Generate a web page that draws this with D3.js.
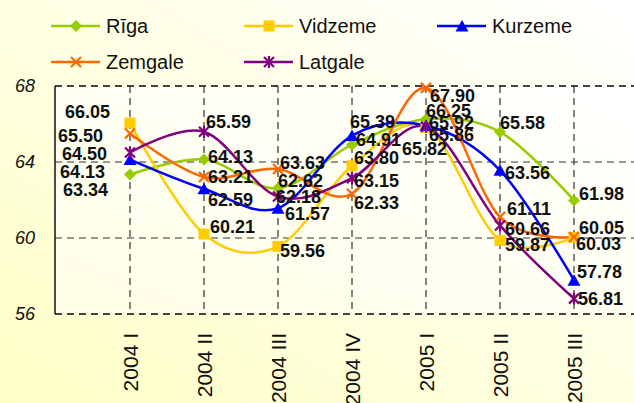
<!DOCTYPE html>
<html>
<head>
<meta charset="utf-8">
<script src="https://cdn.jsdelivr.net/npm/d3@7"></script>
<style>
  body { margin: 0; padding: 0; overflow: hidden; }
  .chart text { font-family: "Liberation Sans", Arial, sans-serif; }
</style>
</head>
<body>
<div class="chart"></div>
<script>
// quarters on the x axis
var quarters = ["2004 I", "2004 II", "2004 III", "2004 IV", "2005 I", "2005 II", "2005 III"];

// series values, one array per region
var riga     = [63.34, 64.13, 62.62, 64.91, 66.25, 65.58, 61.98];
var vidzeme  = [66.05, 60.21, 59.56, 63.80, 65.82, 59.87, 60.03];
var kurzeme  = [64.13, 62.59, 61.57, 65.39, 65.92, 63.56, 57.78];
var zemgale  = [65.50, 63.21, 63.63, 62.33, 67.90, 61.11, 60.05];
var latgale  = [64.50, 65.59, 62.18, 63.15, 65.86, 60.66, 56.81];

var yTicks = [56, 60, 64, 68];

// label nudges [dx, dy] so the numbers do not sit on top of each other
var nudges = {
  "Rīga":    [[-22, 15], [4, -3], [0, -8], [4, -5], [0, -9], [0, -9], [5, -7]],
  "Vidzeme": [[-20, -12], [6, -7], [2, 4], [2, -8], [-24, 21], [5, 4], [2, 6]],
  "Kurzeme": [[-25, 12], [4, 11], [7, 5], [-2, -14], [3, -3], [5, 2], [3, -9]],
  "Zemgale": [[-27, 2], [4, 0], [2, -7], [2, 9], [4, 8], [7, -8], [5, -10]],
  "Latgale": [[-23, 1], [2, -10], [-2, 0], [2, 2], [3, 8], [5, 3], [4, 0]]
};

var series = [
  { name: "Rīga", values: riga, color: "#99cc00", marker: "diamond" },
  { name: "Vidzeme", values: vidzeme, color: "#ffcc00", marker: "square" },
  { name: "Kurzeme", values: kurzeme, color: "#0000ff", marker: "triangle" },
  { name: "Zemgale", values: zemgale, color: "#ff6600", marker: "x" },
  { name: "Latgale", values: latgale, color: "#800080", marker: "star" }
];

var svgWidth = 634;
var svgHeight = 403;

// plot frame
var plot = { left: 55, right: 634, top: 86, bottom: 314 };

var svg = d3.select(".chart")
  .append("svg")
  .attr("width", svgWidth)
  .attr("height", svgHeight);

// background gradients
var defs = svg.append("defs");
var bgGrad = defs.append("linearGradient")
  .attr("id", "bg")
  .attr("x1", "0%").attr("y1", "100%")
  .attr("x2", "100%").attr("y2", "0%");
bgGrad.append("stop").attr("offset", "0%").attr("stop-color", "#ffffc6");
bgGrad.append("stop").attr("offset", "100%").attr("stop-color", "#ffffff");

var plotGrad = defs.append("linearGradient")
  .attr("id", "plotbg")
  .attr("x1", "0%").attr("y1", "100%")
  .attr("x2", "100%").attr("y2", "0%");
plotGrad.append("stop").attr("offset", "0%").attr("stop-color", "#ffffe6");
plotGrad.append("stop").attr("offset", "100%").attr("stop-color", "#ffffff");

svg.append("rect")
  .attr("width", svgWidth)
  .attr("height", svgHeight)
  .attr("fill", "url(#bg)");

svg.append("rect")
  .attr("x", plot.left)
  .attr("y", plot.top)
  .attr("width", plot.right - plot.left)
  .attr("height", plot.bottom - plot.top)
  .attr("fill", "url(#plotbg)");

// scales
var xScale = d3.scalePoint()
  .domain(quarters)
  .range([130, 574]);

var yScale = d3.scaleLinear()
  .domain([56, 68])
  .range([plot.bottom, plot.top]);

// horizontal dashed gridlines (incl. top and bottom)
svg.append("g")
  .selectAll("line")
  .data(yTicks)
  .enter()
  .append("line")
  .attr("x1", plot.left)
  .attr("x2", plot.right)
  .attr("y1", d => yScale(d))
  .attr("y2", d => yScale(d))
  .attr("stroke", d => (d == 56 || d == 68) ? "#444" : "#333")
  .attr("stroke-width", d => (d == 56 || d == 68) ? 2 : 1.2)
  .attr("stroke-dasharray", "7,5");

// vertical dashed gridlines
svg.append("g")
  .selectAll("line")
  .data(quarters)
  .enter()
  .append("line")
  .attr("x1", d => xScale(d))
  .attr("x2", d => xScale(d))
  .attr("y1", plot.top)
  .attr("y2", plot.bottom)
  .attr("stroke", "#333")
  .attr("stroke-width", 1.2)
  .attr("stroke-dasharray", "7,5");

// left axis line
svg.append("line")
  .attr("x1", plot.left).attr("x2", plot.left)
  .attr("y1", plot.top).attr("y2", plot.bottom)
  .attr("stroke", "#111")
  .attr("stroke-width", 1.5);

// y axis labels
var leftAxis = d3.axisLeft(yScale)
  .tickValues(yTicks)
  .tickSize(0)
  .tickPadding(0);

var yAxisG = svg.append("g")
  .attr("transform", "translate(35, 0)")
  .call(leftAxis);
yAxisG.select(".domain").remove();
yAxisG.selectAll("text")
  .attr("font-size", "18px")
  .attr("font-style", "italic")
  .attr("fill", "#111");

// x axis labels, rotated
var bottomAxis = d3.axisBottom(xScale).tickSize(0).tickPadding(0);
var xAxisG = svg.append("g")
  .attr("transform", "translate(0, 333)")
  .call(bottomAxis);
xAxisG.select(".domain").remove();
xAxisG.selectAll("text")
  .attr("font-size", "21px")
  .attr("fill", "#111")
  .attr("text-anchor", "end")
  .attr("dy", null)
  .attr("y", 0)
  .attr("x", 0)
  .attr("transform", "rotate(-90) translate(0, 7)");

// smoothed lines
var line = d3.line()
  .x((d, i) => xScale(quarters[i]))
  .y(d => yScale(d))
  .curve(d3.curveCardinal.tension(0));

// marker drawing helper
function drawMarker(g, type, color) {
  if (type == "diamond") {
    g.append("path").attr("d", "M0,-6L6,0L0,6L-6,0Z").attr("fill", color);
  } else if (type == "square") {
    g.append("rect").attr("x", -5.5).attr("y", -5.5).attr("width", 11).attr("height", 11).attr("fill", color);
  } else if (type == "triangle") {
    g.append("path").attr("d", "M0,-6L6.5,5.5L-6.5,5.5Z").attr("fill", color);
  } else if (type == "x") {
    g.append("path").attr("d", "M-5,-5L5,5M-5,5L5,-5").attr("stroke", color).attr("stroke-width", 2.2);
  } else {
    g.append("path").attr("d", "M-5,-5L5,5M-5,5L5,-5M0,-6L0,6").attr("stroke", color).attr("stroke-width", 2.2);
  }
}

series.forEach(function (s) {
  svg.append("path")
    .datum(s.values)
    .attr("d", line)
    .attr("fill", "none")
    .attr("stroke", s.color)
    .attr("stroke-width", 2.5);
});

series.forEach(function (s) {
  s.values.forEach(function (v, i) {
    var g = svg.append("g")
      .attr("transform", `translate(${xScale(quarters[i])}, ${yScale(v)})`);
    drawMarker(g, s.marker, s.color);
  });
});

// data labels
series.forEach(function (s) {
  svg.append("g")
    .selectAll("text")
    .data(s.values)
    .enter()
    .append("text")
    .attr("x", (d, i) => xScale(quarters[i]) + nudges[s.name][i][0])
    .attr("y", (d, i) => yScale(d) + nudges[s.name][i][1])
    .attr("dy", "0.36em")
    .attr("text-anchor", (d, i) => i == 0 ? "end" : "start")
    .attr("font-size", "18px")
    .attr("font-weight", "bold")
    .attr("fill", "#111")
    .text(d => d.toFixed(2));
});

// legend
var legendPos = [[51, 26], [244, 26], [437, 26], [51, 62], [244, 62]];
var legendOrder = ["Rīga", "Vidzeme", "Kurzeme", "Zemgale", "Latgale"];

legendOrder.forEach(function (name, k) {
  var s = series.find(d => d.name == name);
  var p = legendPos[k];
  var g = svg.append("g").attr("transform", `translate(${p[0]}, ${p[1]})`);
  g.append("line")
    .attr("x1", 0).attr("x2", 49)
    .attr("y1", 0).attr("y2", 0)
    .attr("stroke", s.color)
    .attr("stroke-width", 2.5);
  var m = g.append("g").attr("transform", "translate(25, 0)");
  drawMarker(m, s.marker, s.color);
  g.append("text")
    .attr("x", 55)
    .attr("y", 0)
    .attr("dy", "0.36em")
    .attr("font-size", "20px")
    .attr("fill", "#111")
    .text(name);
});
</script>
</body>
</html>
